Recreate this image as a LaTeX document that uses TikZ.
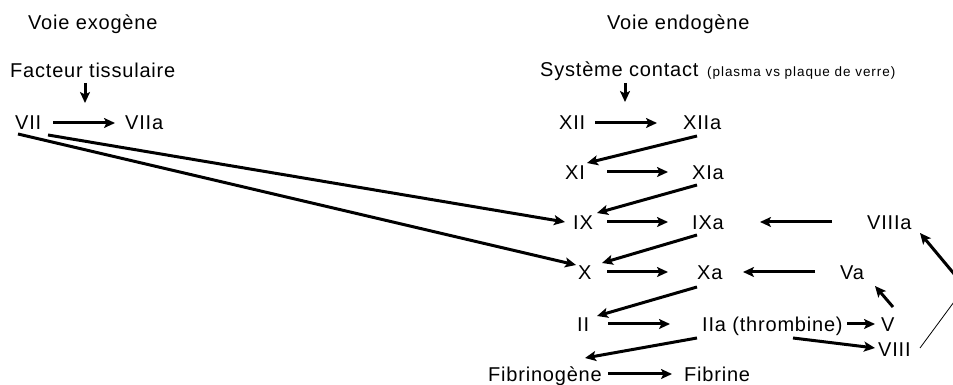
\documentclass[tikz,border=0pt]{standalone}
\usepackage{fontspec}
\setmainfont[LetterSpace=4]{Liberation Sans}
\newfontfamily\smallfam[LetterSpace=7]{Liberation Sans}
\usetikzlibrary{arrows.meta}
\begin{document}
\begin{tikzpicture}[x=1pt,y=1pt,
  lbl/.style={anchor=base west,inner sep=0pt,font=\fontsize{20}{24}\selectfont},
  arr/.style={line width=3pt,-{Stealth[length=11pt,width=10pt,inset=2.5pt]}},
  thin/.style={line width=0.8pt}]
\useasboundingbox (0,0) rectangle (953,385);
\clip (0,0) rectangle (953,385);
% titles
\node[lbl] (exo)  at (28,355) {Voie exogène};
\node[lbl] (endo) at (607,355) {Voie endogène};
\node[lbl] (FT)   at (10,307) {Facteur tissulaire};
\node[lbl] (SC)   at (540,308) {Système contact};
\node[anchor=base west,inner sep=0pt,font=\smallfam\fontsize{13.5}{16}\selectfont] (SCp) at (707,308) {(plasma vs plaque de verre)};
% factors
\node[lbl] (VII)   at (15,255) {VII};
\node[lbl] (VIIa)  at (125,255) {VIIa};
\node[lbl] (XII)   at (559,255) {XII};
\node[lbl] (XIIa)  at (683,255) {XIIa};
\node[lbl] (XI)    at (565,205) {XI};
\node[lbl] (XIa)   at (692,205) {XIa};
\node[lbl] (IX)    at (573,155) {IX};
\node[lbl] (IXa)   at (692,155) {IXa};
\node[lbl] (VIIIa) at (867,155) {VIIIa};
\node[lbl] (X)     at (578,105) {X};
\node[lbl] (Xa)    at (697,105) {Xa};
\node[lbl] (Va)    at (840,105) {Va};
\node[lbl] (II)    at (577,53) {II};
\node[lbl] (IIa)   at (702,53) {IIa (thrombine)};
\node[lbl] (V)     at (881,53) {V};
\node[lbl] (VIII)  at (878,28) {VIII};
\node[lbl] (Fib)   at (488,3) {Fibrinogène};
\node[lbl] (Fibr)  at (684,3) {Fibrine};
\coordinate (corner) at (965,98);
% arrows
\draw[arr] ([shift={(75,-5)}]FT.base west) -- ([shift={(70,27)}]VII.base west);
\draw[arr] ([shift={(38,7)}]VII.base west) -- ([shift={(-10,7)}]VIIa.base west);
\draw[arr] ([shift={(33,-5)}]VII.base west) -- ([shift={(-8,8)}]IX.base west);
\draw[arr] ([shift={(3,-4)}]VII.base west) -- ([shift={(-2,15)}]X.base west);
\draw[arr] ([shift={(85,-6)}]SC.base west) -- ([shift={(66,28)}]XII.base west);
\draw[arr] ([shift={(36,7)}]XII.base west) -- ([shift={(-26,7)}]XIIa.base west);
\draw[arr] ([shift={(14,-6)}]XIIa.base west) -- ([shift={(22,17)}]XI.base west);
\draw[arr] ([shift={(42,8)}]XI.base west) -- ([shift={(-24,8)}]XIa.base west);
\draw[arr] ([shift={(5,-5)}]XIa.base west) -- ([shift={(24,17)}]IX.base west);
\draw[arr] ([shift={(34,8)}]IX.base west) -- ([shift={(-24,8)}]IXa.base west);
\draw[arr] ([shift={(-35,8)}]VIIIa.base west) -- ([shift={(68,8)}]IXa.base west);
\draw[arr] ([shift={(5,-5)}]IXa.base west) -- ([shift={(24,17)}]X.base west);
\draw[arr] ([shift={(29,8)}]X.base west) -- ([shift={(-29,8)}]Xa.base west);
\draw[arr] ([shift={(-25,8)}]Va.base west) -- ([shift={(46,8)}]Xa.base west);
\draw[arr] ([shift={(0,-7)}]Xa.base west) -- ([shift={(20,16)}]II.base west);
\draw[arr] ([shift={(31,8)}]II.base west) -- ([shift={(-32,8)}]IIa.base west);
\draw[arr] ([shift={(145,8)}]IIa.base west) -- ([shift={(-6,8)}]V.base west);
\draw[arr] ([shift={(91,-6)}]IIa.base west) -- ([shift={(-3,9)}]VIII.base west);
\draw[arr] ([shift={(-5,-6)}]IIa.base west) -- ([shift={(97,24)}]Fib.base west);
\draw[arr] ([shift={(120,8)}]Fib.base west) -- ([shift={(-12,8)}]Fibr.base west);
\draw[arr] ([shift={(12,25)}]V.base west) -- ([shift={(35,-6)}]Va.base west);
\draw[thin] ([shift={(42,9)}]VIII.base west) -- (corner);
\draw[arr] (corner) -- ([shift={(53,-3)}]VIIIa.base west);
\end{tikzpicture}
\end{document}
